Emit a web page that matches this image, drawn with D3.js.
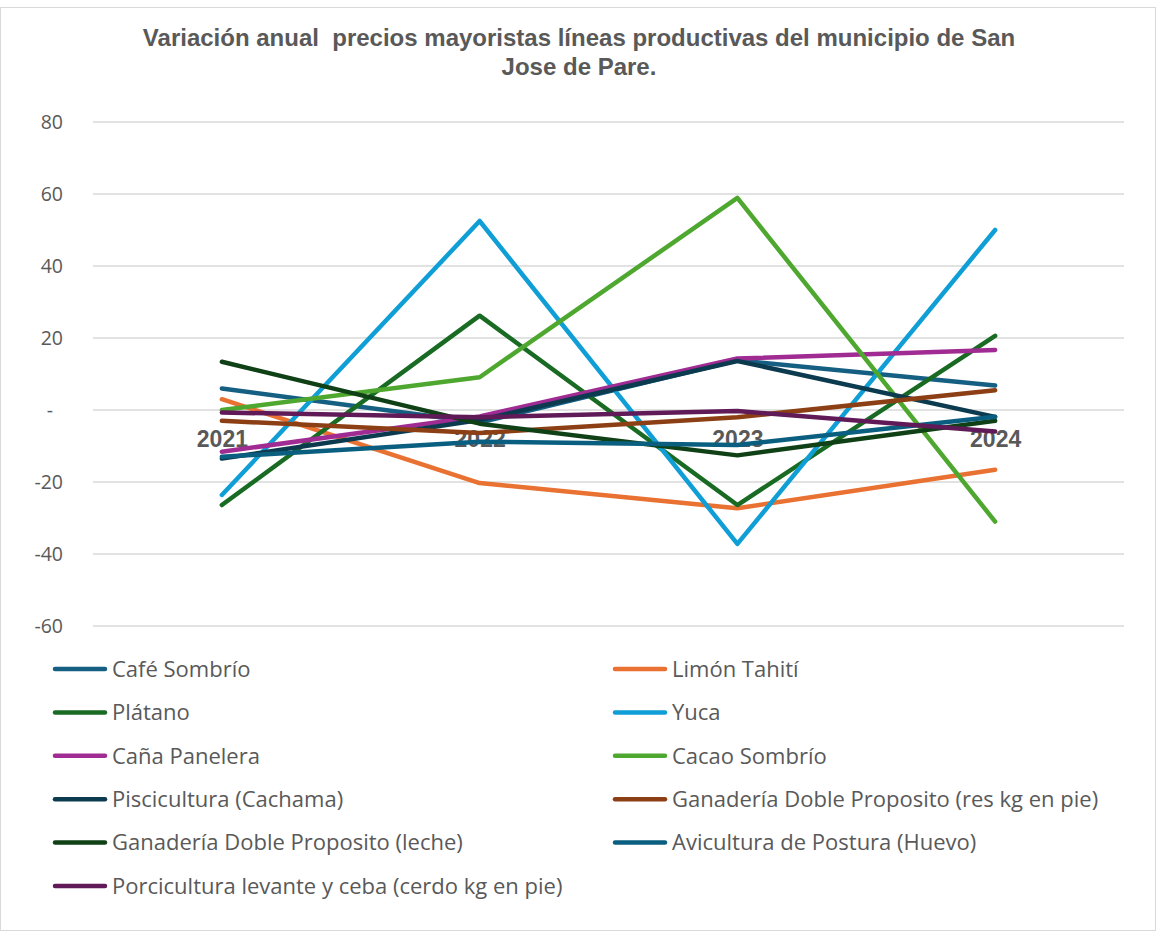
<!DOCTYPE html>
<html>
<head>
<meta charset="utf-8">
<script src="https://cdn.jsdelivr.net/npm/d3@7/dist/d3.min.js"></script>
<style>
  html, body { margin: 0; padding: 0; background: #fff; }
  svg { display: block; }
</style>
</head>
<body>
<script>
const years = ["2021", "2022", "2023", "2024"];
const yTicks = [-60, -40, -20, 0, 20, 40, 60, 80];
const seriesNames = [
  "Café Sombrío", "Limón Tahití", "Plátano", "Yuca", "Caña Panelera", "Cacao Sombrío",
  "Piscicultura (Cachama)", "Ganadería Doble Proposito (res kg en pie)",
  "Ganadería Doble Proposito (leche)", "Avicultura de Postura (Huevo)",
  "Porcicultura levante y ceba (cerdo kg en pie)"
];
const cafeSombrio   = [6.0, -3.5, 13.8, 6.8];
const limonTahiti   = [3.0, -20.3, -27.3, -16.6];
const platano       = [-26.4, 26.2, -26.4, 20.6];
const yuca          = [-23.6, 52.5, -37.2, 50.0];
const canaPanelera  = [-11.6, -1.8, 14.3, 16.7];
const cacaoSombrio  = [0.0, 9.1, 58.9, -31.0];
const piscicultura  = [-13.5, -2.8, 13.6, -1.9];
const ganaderiaRes  = [-3.0, -6.4, -2.0, 5.5];
const ganaderiaLeche= [13.4, -3.8, -12.6, -3.0];
const avicultura    = [-13.0, -8.8, -9.7, -1.9];
const porcicultura  = [-0.7, -2.0, -0.3, -6.0];
const seriesValues = [cafeSombrio, limonTahiti, platano, yuca, canaPanelera, cacaoSombrio,
  piscicultura, ganaderiaRes, ganaderiaLeche, avicultura, porcicultura];
const colors = ["#156082", "#E97132", "#196B24", "#0F9ED5", "#A02B93", "#4EA72E",
  "#0C3A4F", "#8C3F14", "#0F4016", "#0A5F80", "#601A58"];

const W = 1157, H = 932;
const svg = d3.select("body").append("svg").attr("width", W).attr("height", H);

svg.append("rect").attr("x", 0.5).attr("y", 7.5).attr("width", W - 2).attr("height", H - 9)
  .attr("fill", "#fff").attr("stroke", "#d9d9d9").attr("stroke-width", 1);

// Title
const title = svg.append("text").attr("text-anchor", "middle")
  .attr("font-family", "Liberation Sans, Arial, sans-serif").attr("font-weight", "bold")
  .attr("font-size", 24).attr("fill", "#595959").style("white-space", "pre");
title.append("tspan").attr("x", 579).attr("y", 46).text("Variación anual  precios mayoristas líneas productivas del municipio de San");
title.append("tspan").attr("x", 579).attr("y", 75).text("Jose de Pare.");

const plot = { left: 93, right: 1124, top: 122, bottom: 626 };
const x = d3.scalePoint().domain(years).range([plot.left, plot.right]).padding(0.5);
const y = d3.scaleLinear().domain([-60, 80]).range([plot.bottom, plot.top]);

// gridlines
svg.append("g").selectAll("line").data(yTicks).join("line")
  .attr("x1", plot.left).attr("x2", plot.right)
  .attr("y1", d => y(d)).attr("y2", d => y(d))
  .attr("stroke", "#d9d9d9").attr("stroke-width", 1.3);

// y axis labels
const yAxis = d3.axisLeft(y).tickValues(yTicks).tickSize(0).tickPadding(0)
  .tickFormat(d => d === 0 ? "-" : String(d));
const gy = svg.append("g").attr("transform", `translate(63,0)`).call(yAxis);
gy.select(".domain").remove();
gy.selectAll("text").attr("font-family", "Open Sans, sans-serif").attr("font-size", 19.5)
  .attr("fill", "#595959").attr("dy", "0.35em")
  .attr("dx", d => d === 0 ? -10 : 0);

// x axis labels at zero
const xAxis = d3.axisBottom(x).tickSize(0).tickPadding(0);
const gx = svg.append("g").attr("transform", `translate(0,${y(0)})`).call(xAxis);
gx.select(".domain").remove();
gx.selectAll("text").attr("font-family", "Liberation Sans, Arial, sans-serif").attr("font-weight", "bold")
  .attr("font-size", 23).attr("fill", "#595959").attr("dy", "1.6em");

// lines
const line = d3.line().x((d, i) => x(years[i])).y(d => y(d));
svg.append("g").selectAll("path").data(seriesValues).join("path")
  .attr("d", d => line(d)).attr("fill", "none")
  .attr("stroke", (d, i) => colors[i]).attr("stroke-width", 4.5)
  .attr("stroke-linecap", "round").attr("stroke-linejoin", "round");

// legend
const legend = svg.append("g");
seriesNames.forEach((name, i) => {
  const col = i % 2, row = Math.floor(i / 2);
  const lx = col === 0 ? 55 : 615;
  const ly = 669 + row * 43.4;
  const g = legend.append("g").attr("transform", `translate(${lx},${ly})`);
  g.append("line").attr("x1", 0).attr("x2", 50).attr("y1", 0).attr("y2", 0)
    .attr("stroke", colors[i]).attr("stroke-width", 4.5).attr("stroke-linecap", "round");
  g.append("text").attr("x", 57).attr("y", 0).attr("dy", "0.35em")
    .attr("font-family", "Open Sans, sans-serif").attr("font-size", 22).attr("fill", "#595959")
    .text(name);
});
</script>
</body>
</html>
